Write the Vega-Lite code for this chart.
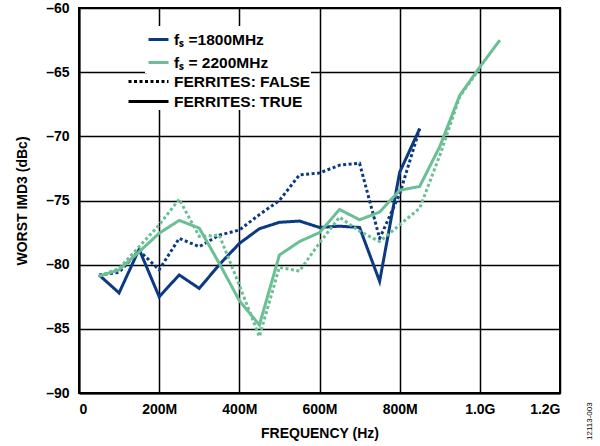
{
  "$schema": "https://vega.github.io/schema/vega-lite/v6.json",
  "width": 481,
  "height": 385,
  "autosize": {"type": "none"},
  "padding": {"left": 79, "top": 8, "right": 40, "bottom": 53},
  "background": "white",
  "title": {"text": "12113-003", "orient": "right", "anchor": "end", "angle": -90, "align": "left", "fontSize": 8, "fontWeight": "normal", "font": "Liberation Sans", "color": "black", "offset": 18},
  "config": {
    "font": "Liberation Sans",
    "view": {"stroke": "black", "strokeWidth": 2},
    "axis": {
      "labelFont": "Liberation Sans", "labelFontWeight": "bold", "labelFontSize": 14, "labelColor": "black",
      "titleFont": "Liberation Sans", "titleFontWeight": "bold", "titleFontSize": 14, "titleColor": "black",
      "grid": true, "gridColor": "black", "gridWidth": 1.5, "gridOpacity": 1,
      "domainColor": "black", "domainWidth": 2, "ticks": false
    },
    "legend": {
      "labelFont": "Liberation Sans", "labelFontWeight": "bold", "labelFontSize": 15.5, "labelColor": "black",
      "fillColor": "white", "padding": 2, "rowPadding": 3, "labelOffset": 4
    }
  },
  "data": {
    "values": [
      {"f": 50, "v": -80.8, "s": "1800", "fer": "TRUE"},
      {"f": 100, "v": -82.2, "s": "1800", "fer": "TRUE"},
      {"f": 150, "v": -78.8, "s": "1800", "fer": "TRUE"},
      {"f": 200, "v": -82.5, "s": "1800", "fer": "TRUE"},
      {"f": 250, "v": -80.8, "s": "1800", "fer": "TRUE"},
      {"f": 300, "v": -81.85, "s": "1800", "fer": "TRUE"},
      {"f": 350, "v": -80.0, "s": "1800", "fer": "TRUE"},
      {"f": 400, "v": -78.35, "s": "1800", "fer": "TRUE"},
      {"f": 450, "v": -77.2, "s": "1800", "fer": "TRUE"},
      {"f": 500, "v": -76.7, "s": "1800", "fer": "TRUE"},
      {"f": 550, "v": -76.6, "s": "1800", "fer": "TRUE"},
      {"f": 600, "v": -77.1, "s": "1800", "fer": "TRUE"},
      {"f": 650, "v": -77.0, "s": "1800", "fer": "TRUE"},
      {"f": 700, "v": -77.1, "s": "1800", "fer": "TRUE"},
      {"f": 750, "v": -81.3, "s": "1800", "fer": "TRUE"},
      {"f": 800, "v": -72.8, "s": "1800", "fer": "TRUE"},
      {"f": 850, "v": -69.4, "s": "1800", "fer": "TRUE"},

      {"f": 50, "v": -80.8, "s": "1800", "fer": "FALSE"},
      {"f": 100, "v": -80.6, "s": "1800", "fer": "FALSE"},
      {"f": 150, "v": -78.9, "s": "1800", "fer": "FALSE"},
      {"f": 200, "v": -80.4, "s": "1800", "fer": "FALSE"},
      {"f": 250, "v": -77.95, "s": "1800", "fer": "FALSE"},
      {"f": 300, "v": -78.6, "s": "1800", "fer": "FALSE"},
      {"f": 350, "v": -77.7, "s": "1800", "fer": "FALSE"},
      {"f": 400, "v": -77.3, "s": "1800", "fer": "FALSE"},
      {"f": 450, "v": -76.1, "s": "1800", "fer": "FALSE"},
      {"f": 500, "v": -75.0, "s": "1800", "fer": "FALSE"},
      {"f": 550, "v": -73.0, "s": "1800", "fer": "FALSE"},
      {"f": 600, "v": -72.85, "s": "1800", "fer": "FALSE"},
      {"f": 650, "v": -72.25, "s": "1800", "fer": "FALSE"},
      {"f": 700, "v": -72.1, "s": "1800", "fer": "FALSE"},
      {"f": 750, "v": -77.95, "s": "1800", "fer": "FALSE"},
      {"f": 800, "v": -74.5, "s": "1800", "fer": "FALSE"},
      {"f": 850, "v": -69.4, "s": "1800", "fer": "FALSE"},

      {"f": 50, "v": -80.9, "s": "2200", "fer": "TRUE"},
      {"f": 100, "v": -80.4, "s": "2200", "fer": "TRUE"},
      {"f": 150, "v": -79.0, "s": "2200", "fer": "TRUE"},
      {"f": 200, "v": -77.55, "s": "2200", "fer": "TRUE"},
      {"f": 250, "v": -76.55, "s": "2200", "fer": "TRUE"},
      {"f": 300, "v": -77.15, "s": "2200", "fer": "TRUE"},
      {"f": 350, "v": -79.9, "s": "2200", "fer": "TRUE"},
      {"f": 400, "v": -82.8, "s": "2200", "fer": "TRUE"},
      {"f": 450, "v": -84.7, "s": "2200", "fer": "TRUE"},
      {"f": 500, "v": -79.25, "s": "2200", "fer": "TRUE"},
      {"f": 550, "v": -78.2, "s": "2200", "fer": "TRUE"},
      {"f": 600, "v": -77.5, "s": "2200", "fer": "TRUE"},
      {"f": 650, "v": -75.7, "s": "2200", "fer": "TRUE"},
      {"f": 700, "v": -76.5, "s": "2200", "fer": "TRUE"},
      {"f": 750, "v": -75.9, "s": "2200", "fer": "TRUE"},
      {"f": 800, "v": -74.2, "s": "2200", "fer": "TRUE"},
      {"f": 850, "v": -73.9, "s": "2200", "fer": "TRUE"},
      {"f": 900, "v": -70.8, "s": "2200", "fer": "TRUE"},
      {"f": 950, "v": -66.8, "s": "2200", "fer": "TRUE"},
      {"f": 1000, "v": -64.6, "s": "2200", "fer": "TRUE"},
      {"f": 1050, "v": -62.5, "s": "2200", "fer": "TRUE"},

      {"f": 50, "v": -80.9, "s": "2200", "fer": "FALSE"},
      {"f": 100, "v": -80.3, "s": "2200", "fer": "FALSE"},
      {"f": 150, "v": -78.6, "s": "2200", "fer": "FALSE"},
      {"f": 200, "v": -76.9, "s": "2200", "fer": "FALSE"},
      {"f": 250, "v": -74.9, "s": "2200", "fer": "FALSE"},
      {"f": 300, "v": -77.8, "s": "2200", "fer": "FALSE"},
      {"f": 350, "v": -77.7, "s": "2200", "fer": "FALSE"},
      {"f": 400, "v": -81.6, "s": "2200", "fer": "FALSE"},
      {"f": 450, "v": -85.6, "s": "2200", "fer": "FALSE"},
      {"f": 500, "v": -80.2, "s": "2200", "fer": "FALSE"},
      {"f": 550, "v": -80.5, "s": "2200", "fer": "FALSE"},
      {"f": 600, "v": -78.3, "s": "2200", "fer": "FALSE"},
      {"f": 650, "v": -76.3, "s": "2200", "fer": "FALSE"},
      {"f": 700, "v": -77.4, "s": "2200", "fer": "FALSE"},
      {"f": 750, "v": -78.2, "s": "2200", "fer": "FALSE"},
      {"f": 800, "v": -76.9, "s": "2200", "fer": "FALSE"},
      {"f": 850, "v": -75.6, "s": "2200", "fer": "FALSE"},
      {"f": 900, "v": -71.5, "s": "2200", "fer": "FALSE"},
      {"f": 950, "v": -66.9, "s": "2200", "fer": "FALSE"},
      {"f": 1000, "v": -64.7, "s": "2200", "fer": "FALSE"}
    ]
  },
  "mark": {"type": "line", "strokeWidth": 3, "strokeCap": "butt", "strokeJoin": "miter"},
  "encoding": {
    "x": {
      "field": "f", "type": "quantitative",
      "scale": {"domain": [0, 1200], "nice": false},
      "axis": {"values": [0, 200, 400, 600, 800, 1000, 1200], "title": "FREQUENCY (Hz)", "labelPadding": 9, "titlePadding": 10,
        "labelExpr": "datum.value == 0 ? '0' : (datum.value < 1000 ? datum.value + 'M' : format(datum.value / 1000, '.1f') + 'G')"}
    },
    "y": {
      "field": "v", "type": "quantitative",
      "scale": {"domain": [-90, -60], "nice": false},
      "axis": {"values": [-90, -85, -80, -75, -70, -65, -60], "title": "WORST IMD3 (dBc)", "labelPadding": 10, "titlePadding": 16,
        "labelExpr": "replace(datum.label, '\u2212', '\u2013')"}
    },
    "color": {
      "field": "s", "type": "nominal",
      "scale": {"domain": ["1800", "2200"], "range": ["#0B3A82", "#6ABF94"]},
      "legend": {
        "title": null, "orient": "none", "legendX": 66, "legendY": 18,
        "symbolType": "stroke", "symbolSize": 400, "symbolStrokeWidth": 3,
        "labelExpr": "datum.value == '1800' ? 'f\u209b =1800MHz' : 'f\u209b = 2200MHz'"
      }
    },
    "strokeDash": {
      "field": "fer", "type": "nominal",
      "scale": {"domain": ["FALSE", "TRUE"], "range": [[3, 2.5], [1, 0]]},
      "legend": {
        "title": null, "orient": "none", "legendX": 68, "legendY": 62, "rowPadding": 0, "padding": 0,
        "symbolType": "M-3,0H1", "symbolSize": 400, "symbolStrokeWidth": 3, "symbolStrokeColor": "black",
        "labelExpr": "'FERRITES: ' + datum.value"
      }
    }
  }
}
